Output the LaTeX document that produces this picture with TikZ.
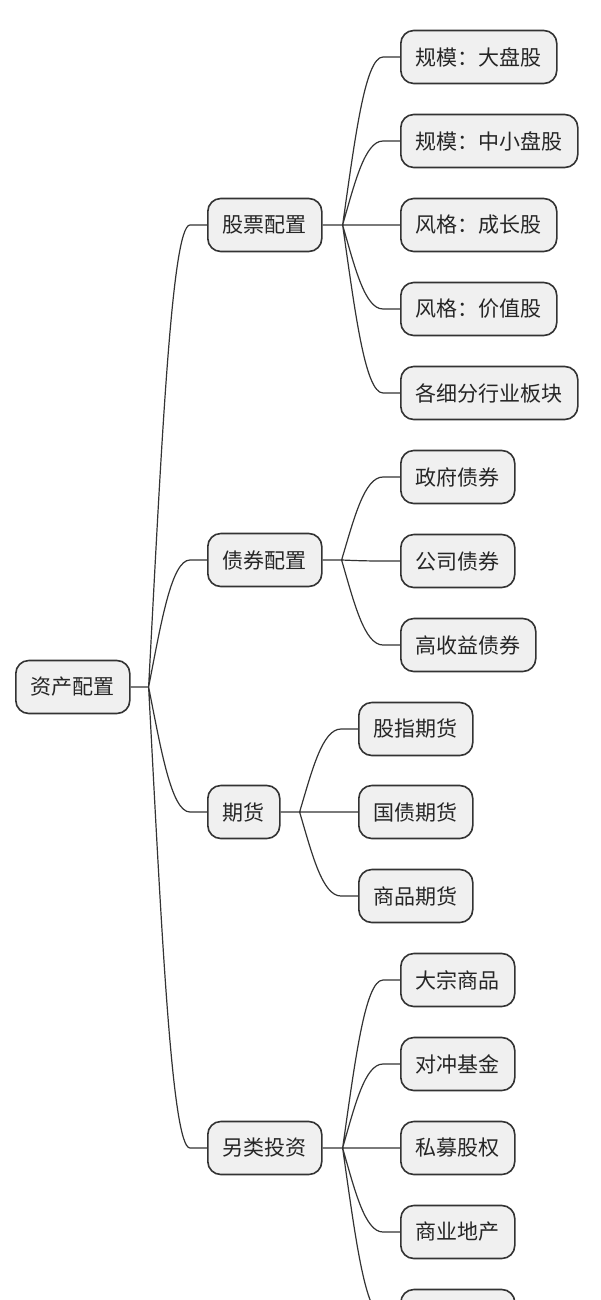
\documentclass[tikz,border=0pt]{standalone}
\usepackage{fontspec}
\newfontfamily\cjk{Noto Sans CJK SC}
\usetikzlibrary{calc}

\begin{document}
\begin{tikzpicture}[x=1pt, y=-1pt]
\tikzstyle{every node}=[draw=black!80, line width=1.6pt, fill=black!6, rounded corners=13pt, minimum height=53pt, inner xsep=15pt, anchor=west, text=black!85, font=\cjk\fontsize{21}{24}\selectfont];
\tikzstyle{link}=[draw=black!80, line width=1.2pt]
\tikzstyle{branch}=[to path={let \p1=(\tikztostart), \p2=(\tikztotarget.west) in
  .. controls ({\x1+0.3*(\x2-17pt-\x1)}, {\y1+0.5*(\y2-\y1)}) and ({\x1+0.55*(\x2-17pt-\x1)}, \y2)
  .. (\x2-17pt, \y2) -- (\tikztotarget.west)}]
\useasboundingbox (0,0) rectangle (600,1300);
\clip (0,0) rectangle (600,1300);

\node (root) at (15,687) {资产配置};
\node (gp) at (207,225) {股票配置};
\node (zq) at (207,560) {债券配置};
\node (qh) at (207,812) {期货};
\node (lt) at (207,1148) {另类投资};

\node (gp1) at (400,57) {规模：大盘股};
\node (gp2) at (400,141) {规模：中小盘股};
\node (gp3) at (400,225) {风格：成长股};
\node (gp4) at (400,309) {风格：价值股};
\node (gp5) at (400,393) {各细分行业板块};

\node (zq1) at (400,477) {政府债券};
\node (zq2) at (400,561) {公司债券};
\node (zq3) at (400,645) {高收益债券};

\node (qh1) at (358,729) {股指期货};
\node (qh2) at (358,812) {国债期货};
\node (qh3) at (358,896) {商品期货};

\node (lt1) at (400,980) {大宗商品};
\node (lt2) at (400,1064) {对冲基金};
\node (lt3) at (400,1148) {私募股权};
\node (lt4) at (400,1232) {商业地产};
\node [minimum width=114pt] (lt5) at (400,1316) {}; % cut off

\coordinate (f0) at ($(root.east)+(18,0)$);
\coordinate (f1) at ($(gp.east)+(20,0)$);
\coordinate (f2) at ($(zq.east)+(19,0)$);
\coordinate (f3) at ($(qh.east)+(19,0)$);
\coordinate (f4) at ($(lt.east)+(20,0)$);

\draw [link] (root.east) -- (f0) to[branch] (gp)
  (f0) to[branch] (zq)
  (f0) to[branch] (qh)
  (f0) to[branch] (lt);
\draw [link] (gp.east) -- (f1) to[branch] (gp1)
  (f1) to[branch] (gp2)
  (f1) to[branch] (gp3)
  (f1) to[branch] (gp4)
  (f1) to[branch] (gp5);
\draw [link] (zq.east) -- (f2) to[branch] (zq1)
  (f2) to[branch] (zq2)
  (f2) to[branch] (zq3);
\draw [link] (qh.east) -- (f3) to[branch] (qh1)
  (f3) to[branch] (qh2)
  (f3) to[branch] (qh3);
\draw [link] (lt.east) -- (f4) to[branch] (lt1)
  (f4) to[branch] (lt2)
  (f4) to[branch] (lt3)
  (f4) to[branch] (lt4)
  (f4) to[branch] (lt5);
\end{tikzpicture}
\end{document}
